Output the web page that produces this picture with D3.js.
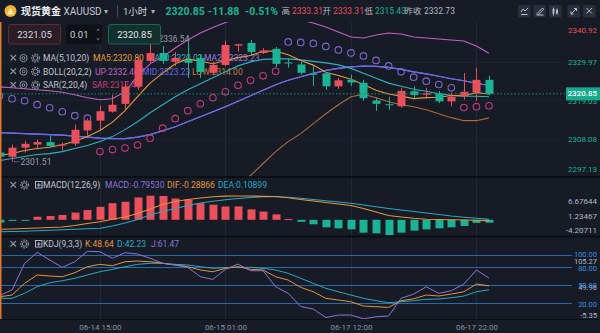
<!DOCTYPE html>
<html>
<head>
<meta charset="utf-8">
<script src="https://cdn.jsdelivr.net/npm/d3@7/dist/d3.min.js"></script>
<style>
  html, body { margin: 0; padding: 0; background: #161b26; overflow: hidden; }
  svg { display: block; font-family: Roboto, "Noto Sans CJK SC", "DejaVu Sans", sans-serif; }
</style>
</head>
<body>
<svg id="chart" width="600" height="333"></svg>
<script>
// ---------- hourly bars, XAUUSD ----------
const times = [
  "06-14 07:00","06-14 08:00","06-14 09:00","06-14 10:00","06-14 11:00","06-14 12:00","06-14 13:00",
  "06-14 14:00","06-14 15:00","06-14 16:00","06-14 17:00","06-14 18:00","06-14 19:00","06-14 20:00",
  "06-14 21:00","06-14 22:00","06-14 23:00","06-15 00:00","06-15 01:00","06-15 02:00","06-15 03:00",
  "06-15 04:00","06-17 06:00","06-17 07:00","06-17 08:00","06-17 09:00","06-17 10:00","06-17 11:00",
  "06-17 12:00","06-17 13:00","06-17 14:00","06-17 15:00","06-17 16:00","06-17 17:00","06-17 18:00",
  "06-17 19:00","06-17 20:00","06-17 21:00","06-17 22:00","06-17 23:00"
];
const open  = [2304.10,2302.90,2305.50,2306.40,2307.10,2306.20,2306.65,2310.40,2313.20,2315.80,
               2318.00,2322.90,2330.25,2332.50,2330.00,2330.50,2331.10,2326.85,2329.10,2334.60,
               2335.37,2332.50,2333.70,2329.80,2329.25,2326.60,2326.70,2323.00,2324.85,2324.00,
               2318.96,2317.90,2317.30,2321.60,2320.60,2321.00,2318.70,2320.20,2321.30,2324.85];
const high  = [2304.70,2306.40,2307.40,2307.80,2309.00,2306.95,2312.10,2313.80,2317.50,2320.60,
               2324.30,2331.40,2336.54,2334.50,2332.80,2335.70,2332.20,2330.00,2336.00,2335.10,
               2336.20,2333.90,2334.20,2331.10,2330.00,2328.80,2327.10,2325.40,2326.30,2324.85,
               2319.70,2320.00,2322.60,2322.90,2322.60,2321.70,2321.20,2326.80,2328.30,2326.00];
const low   = [2302.40,2301.51,2304.10,2305.00,2305.50,2304.70,2306.10,2308.90,2310.60,2315.50,
               2316.30,2322.00,2329.70,2329.40,2328.80,2325.40,2325.40,2326.30,2328.80,2332.90,
               2332.20,2332.20,2328.50,2328.30,2326.30,2323.10,2322.00,2322.30,2323.10,2318.90,
               2316.00,2316.30,2316.90,2319.70,2319.45,2318.20,2317.30,2319.20,2318.90,2320.45];
const close = [2302.97,2305.50,2306.60,2307.10,2305.95,2306.40,2310.60,2313.20,2315.90,2317.75,
               2322.90,2330.50,2332.50,2330.25,2331.10,2329.70,2327.10,2329.10,2334.80,2335.00,
               2332.80,2333.20,2329.40,2329.50,2326.85,2326.30,2323.00,2324.70,2324.10,2319.60,
               2318.00,2317.60,2321.70,2320.50,2321.00,2318.70,2320.00,2321.45,2324.85,2320.85];

// moving averages
const ma5  = [2303.25,2303.82,2304.67,2305.24,2305.62,2306.31,2307.33,2308.65,2310.41,2312.77,
              2316.07,2320.05,2323.91,2326.78,2329.45,2330.81,2330.13,2329.45,2330.36,2331.18,
              2331.80,2333.02,2333.08,2332.02,2330.35,2329.05,2327.01,2326.07,2324.99,2323.54,
              2321.88,2320.80,2320.20,2319.48,2319.76,2319.90,2320.38,2320.33,2321.20,2320.80];
const ma10 = [2301.82,2302.39,2302.96,2303.53,2303.81,2304.38,2305.24,2306.09,2307.23,2308.65,
              2310.64,2312.91,2315.47,2317.75,2320.02,2322.01,2323.72,2325.42,2327.13,2328.83,
              2329.97,2330.68,2330.82,2330.82,2330.54,2330.11,2329.69,2329.12,2328.12,2326.70,
              2325.28,2323.91,2323.00,2322.15,2321.58,2320.87,2320.45,2320.16,2320.16,2320.02];
const ma20 = [2309.78,2309.64,2309.50,2309.36,2309.22,2309.07,2308.79,2308.51,2308.22,2308.08,
              2308.08,2308.51,2309.22,2310.35,2311.49,2312.91,2314.33,2315.75,2317.18,2318.74,
              2320.30,2321.87,2323.43,2324.71,2325.71,2326.70,2327.55,2328.12,2328.55,2328.75,
              2328.69,2328.41,2327.84,2327.13,2326.56,2325.85,2325.14,2324.57,2323.86,2323.23];

// Bollinger bands (middle band is the 20-bar average)
const bollMid = ma20;
const bollUp  = [2322.86,2322.58,2322.29,2322.01,2321.73,2321.30,2320.59,2319.74,2319.17,2319.45,
                 2321.44,2325.99,2329.40,2331.39,2333.95,2336.22,2338.21,2339.78,2341.20,2342.48,
                 2343.05,2342.76,2342.48,2342.19,2341.91,2341.06,2339.92,2338.50,2337.08,2336.79,
                 2337.65,2338.21,2337.93,2337.08,2336.79,2336.51,2336.22,2335.94,2334.52,2332.46];
const bollLow = [2296.70,2296.70,2296.71,2296.71,2296.71,2296.84,2296.99,2297.28,2297.27,2296.71,
                 2294.72,2291.03,2289.04,2289.31,2289.03,2289.60,2290.45,2291.72,2293.16,2295.00,
                 2297.55,2300.98,2304.38,2307.23,2309.51,2312.34,2315.18,2317.74,2320.02,2320.71,
                 2319.73,2318.61,2317.75,2317.18,2316.33,2315.19,2314.06,2313.20,2313.20,2314.00];

// parabolic SAR
const sar = [2320.30,2319.45,2318.88,2317.75,2316.89,2315.75,2314.62,2313.91,2304.38,2304.95,
             2305.38,2306.23,2308.22,2311.06,2313.77,2316.04,2318.03,2319.74,2321.44,2323.29,
             2324.71,2325.99,2327.27,2335.66,2335.51,2335.23,2334.38,2333.38,2332.53,2331.68,
             2330.40,2328.83,2327.13,2325.62,2324.48,2323.52,2322.58,2316.95,2317.20,2317.45];

// MACD(12,26,9)
const macdHist = [-0.75,-0.30,-0.15,0.85,1.05,1.35,2.00,2.70,3.60,4.60,
                  5.00,6.20,6.67644,6.60,5.90,5.60,4.60,4.20,3.70,3.70,
                  2.90,2.30,1.50,0.20,-0.55,-1.25,-2.08,-2.36,-2.64,-3.56,
                  -3.75,-4.20711,-3.56,-3.00,-2.64,-2.36,-2.08,-1.71,-0.85,-0.79530];
const dif = [-2.63,-2.55,-2.41,-2.27,-2.13,-1.99,-1.58,-1.02,-0.53,0.14,
             0.78,1.75,2.99,4.24,5.07,5.62,6.04,6.37,6.55,6.60,
             6.60,6.50,6.45,6.09,5.62,5.20,4.79,4.38,3.96,3.13,
             2.16,1.19,0.78,0.42,0.17,0.08,0.00,-0.06,-0.14,-0.28866];
const dea = [-3.30,-3.24,-3.16,-3.05,-2.91,-2.77,-2.60,-2.47,-2.35,-1.72,
             -0.89,0.08,1.33,2.30,3.13,3.96,4.65,5.15,5.54,5.90,
             6.18,6.37,6.40,6.26,5.96,5.62,5.26,4.93,4.57,4.10,
             3.60,3.13,2.71,2.30,1.88,1.47,1.05,0.72,0.42,0.10899];

// KDJ(9,3,3)
const kLine = [30.8,33.6,52.8,66.4,64.8,63.6,70.2,80.0,83.9,81.6,
               88.2,89.3,88.2,85.6,82.8,80.0,74.6,71.8,77.4,80.0,
               75.7,74.6,63.6,58.2,46.2,39.0,28.2,25.4,22.6,15.6,
               14.4,13.4,24.3,27.5,33.6,32.0,35.2,39.0,51.6,48.64];
const dLine = [28.2,28.2,36.4,47.2,53.8,57.0,61.0,66.4,71.8,75.7,
               80.0,83.9,85.6,85.6,83.9,82.8,80.0,77.4,78.4,79.0,
               79.0,77.4,74.6,69.2,61.0,52.8,44.6,39.0,33.6,28.2,
               24.3,21.0,22.6,24.3,26.6,27.0,29.2,32.0,39.0,42.23];
const jLine = [33.0,41.8,85.6,103.5,91.0,79.0,88.2,105.27,104.6,93.8,
               103.0,100.8,93.8,85.6,82.8,79.0,63.6,59.3,75.7,84.4,
               73.4,73.4,47.2,36.4,14.8,10.7,-3.3,0.8,0.8,-5.35,
               -2.0,-0.8,28.2,35.2,47.2,36.4,40.7,51.6,74.6,61.47];

// axis ticks
const priceTicks = [2340.92, 2329.97, 2319.03, 2308.08, 2297.13];
const macdTicks  = [6.67644, 1.23467, -4.20711];
const kdjTicks   = [105.27, 49.96, -5.35];
const kdjLevels  = [100, 80, 50, 20];
const timeTicks  = ["06-14 15:00", "06-15 01:00", "06-17 12:00", "06-17 22:00"];

// quote header
const prevClose = 2332.73;
const dayStats = [["高", 2333.31], ["开", 2333.31], ["低", 2315.43], ["昨收", 2332.73]];
const change = -11.88, changePct = -0.51;
const quoteBoxes = [2321.05, 0.01, 2320.85];

// ---------- drawing ----------
const C = {
  bg: "#161b26", divider: "#0b0e14", grid: "#222835", text: "#c3c7cf", dim: "#8c929d",
  up: "#ea4f5c", down: "#1bb393",
  ma5: "#e59a3e", ma10: "#2db2bf", ma20: "#9a7be0",
  up_: "#c262c4", mid: "#6668ee", low: "#b26a37",
  sarAbove: "#7e66cc", sarBelow: "#c23c78",
  macd: "#8f73d8", dif: "#e3953c", dea: "#2aa9c2",
  level: "#2868ad", levelText: "#3a8ee0"
};
const last = a => a[a.length - 1];
const N = times.length;
const idx = d3.range(N);

const svg = d3.select("#chart");
svg.append("rect").attr("width", 600).attr("height", 333).attr("fill", C.bg);

const x = d3.scalePoint().domain(times).range([-0.5, 489]);
const yMain = d3.scaleLinear().domain([priceTicks[4], priceTicks[0]]).range([177, 23.5]);
const yMacd = d3.scaleLinear().domain([macdTicks[2], macdTicks[0]]).range([235, 195.7]);
const yKdj  = d3.scaleLinear().domain([kdjTicks[2], kdjTicks[0]]).range([318.8, 251.3]);
const xi = i => x(times[i]);

const defs = svg.append("defs");
const clip = (id, y0, y1) => defs.append("clipPath").attr("id", id)
  .append("rect").attr("x", 0).attr("y", y0).attr("width", 566).attr("height", y1 - y0);
clip("cMain", 22, 176); clip("cMacd", 177.5, 235.5); clip("cKdj", 237, 319);

// grid
const grid = svg.append("g");
grid.selectAll("line.v").data(timeTicks).join("line")
  .attr("x1", d => Math.round(x(d)) + 0.5).attr("x2", d => Math.round(x(d)) + 0.5)
  .attr("y1", 22).attr("y2", 319).attr("stroke", C.grid).attr("stroke-width", 1);
grid.selectAll("line.h").data(priceTicks.slice(1, 4)).join("line")
  .attr("x1", 0).attr("x2", 566)
  .attr("y1", d => Math.round(yMain(d)) + 0.5).attr("y2", d => Math.round(yMain(d)) + 0.5)
  .attr("stroke", "#1c2230").attr("stroke-width", 1);

// panel dividers
[[176, 2], [235.5, 2], [319, 1]].forEach(([y, w]) =>
  svg.append("rect").attr("x", 0).attr("y", y).attr("width", 600).attr("height", w).attr("fill", C.divider));

// legends
function icons(g, y, sub) {
  const s = C.dim;
  g.append("path").attr("d", `M10.5,${y - 3}L16,${y + 2.5}M16,${y - 3}L10.5,${y + 2.5}`)
    .attr("stroke", s).attr("stroke-width", 1.1);
  const gear = cx => {
    g.append("circle").attr("cx", cx).attr("cy", y).attr("r", 2.2).attr("fill", "none").attr("stroke", s).attr("stroke-width", 1);
    g.append("circle").attr("cx", cx).attr("cy", y).attr("r", 3.8).attr("fill", "none").attr("stroke", s)
      .attr("stroke-width", 1.3).attr("stroke-dasharray", "1.6,1.1");
  };
  if (sub) {
    gear(24.5);
    g.append("rect").attr("x", 35.5).attr("y", y - 3.5).attr("width", 6.5).attr("height", 6.5)
      .attr("fill", "none").attr("stroke", "#c3c7cf").attr("stroke-width", 0.9);
    g.append("path").attr("d", `M38.75,${y - 2}V${y + 2}M36.75,${y}H40.75`).attr("stroke", "#c3c7cf").attr("stroke-width", 0.9);
  } else {
    g.append("circle").attr("cx", 23.5).attr("cy", y).attr("r", 3.6).attr("fill", "none").attr("stroke", s).attr("stroke-width", 1);
    g.append("circle").attr("cx", 23.5).attr("cy", y).attr("r", 1.4).attr("fill", "none").attr("stroke", s).attr("stroke-width", 1);
    gear(35.5);
  }
}
// each legend row: item texts with their left edges
function legend(y, items, starts, sub) {
  const g = svg.append("g").attr("font-size", 8.5);
  icons(g, y, sub);
  items.forEach(([t, c], k) => {
    g.append("text").attr("x", starts[k]).attr("y", y).attr("dominant-baseline", "central")
      .attr("fill", c).text(t);
  });
}
const f2 = v => v.toFixed(2), f5 = v => v.toFixed(5);
legend(58, [["MA(5,10,20)", C.text], ["MA5:" + f2(last(ma5)), C.ma5], ["MA10:" + f2(last(ma10)), C.ma10], ["MA20:" + f2(last(ma20)), C.ma20]],
  [43, 93, 147, 204]);
legend(71.5, [["BOLL(20,2,2)", C.text], ["UP:" + f2(last(bollUp)), C.up_], ["MID:" + f2(last(bollMid)), C.mid], ["LOW:" + f2(last(bollLow)), "#bd7a40"]],
  [43, 95, 142, 192]);
legend(85, [["SAR(2,20,4)", C.text], ["SAR:" + f2(last(sar)), "#c8407e"]], [43, 92]);
legend(185, [["MACD(12,26,9)", C.text], ["MACD:" + f5(last(macdHist)), C.macd], ["DIF:" + f5(last(dif)), C.dif], ["DEA:" + f5(last(dea)), C.dea]],
  [43, 105, 167, 218], true);
legend(244, [["KDJ(9,3,3)", C.text], ["K:" + f2(last(kLine)), C.dif], ["D:" + f2(last(dLine)), C.dea], ["J:" + f2(last(jLine)), C.macd]],
  [43, 85, 117, 151], true);

// ---------- main price panel ----------
const gMain = svg.append("g").attr("clip-path", "url(#cMain)");
const lineMain = arr => d3.line().x((d, i) => xi(i)).y(d => yMain(d))(arr);
[[bollLow, C.low], [bollUp, C.up_], [ma20, C.ma20], [bollMid, C.mid], [ma10, C.ma10], [ma5, C.ma5]]
  .forEach(([a, c]) => gMain.append("path").attr("d", lineMain(a)).attr("fill", "none")
    .attr("stroke", c).attr("stroke-width", 1.1));

gMain.selectAll("circle.sar").data(idx).join("circle")
  .attr("cx", i => xi(i)).attr("cy", i => yMain(sar[i])).attr("r", 3.3)
  .attr("fill", "none").attr("stroke-width", 1.1)
  .attr("stroke", i => sar[i] > close[i] ? C.sarAbove : C.sarBelow);

const col = i => close[i] >= open[i] ? C.up : C.down;
const bw = 8;
gMain.selectAll("line.wick").data(idx).join("line")
  .attr("x1", i => Math.round(xi(i)) + 0.5).attr("x2", i => Math.round(xi(i)) + 0.5)
  .attr("y1", i => yMain(high[i])).attr("y2", i => yMain(low[i]))
  .attr("stroke", col).attr("stroke-width", 1);
gMain.selectAll("rect.body").data(idx).join("rect")
  .attr("x", i => Math.round(xi(i)) + 0.5 - bw / 2).attr("width", bw)
  .attr("y", i => yMain(Math.max(open[i], close[i])))
  .attr("height", i => Math.max(1, Math.abs(yMain(open[i]) - yMain(close[i]))))
  .attr("fill", col);

// extreme markers
function extreme(i, v) {
  const cx = Math.round(xi(i)) + 0.5, cy = yMain(v);
  gMain.append("line").attr("x1", cx + 1.5).attr("x2", cx + 7.5).attr("y1", cy).attr("y2", cy)
    .attr("stroke", "#9aa0ab").attr("stroke-dasharray", "1.5,1.2").attr("stroke-width", 0.8);
  gMain.append("text").attr("x", cx + 8).attr("y", cy).attr("dominant-baseline", "central")
    .attr("font-size", 8.5).attr("fill", "#9aa0ab").text(f2(v));
}
const hiI = d3.maxIndex(high), loI = d3.minIndex(low);
extreme(hiI, high[hiI]);
extreme(loI, low[loI]);

// last price line
const yLast = yMain(last(close));
svg.append("line").attr("x1", 0).attr("x2", 566).attr("y1", yLast).attr("y2", yLast)
  .attr("stroke", "#1c8c74").attr("stroke-width", 1).attr("stroke-dasharray", "1.5,2");

// ---------- MACD panel ----------
const gMacd = svg.append("g").attr("clip-path", "url(#cMacd)");
const y0 = yMacd(0);
gMacd.selectAll("rect").data(idx).join("rect")
  .attr("x", i => Math.round(xi(i)) + 0.5 - bw / 2).attr("width", bw)
  .attr("y", i => Math.min(y0, yMacd(macdHist[i])))
  .attr("height", i => Math.max(1, Math.abs(yMacd(macdHist[i]) - y0)))
  .attr("fill", i => macdHist[i] >= 0 ? C.up : C.down);
const lineMacd = arr => d3.line().x((d, i) => xi(i)).y(d => yMacd(d))(arr);
gMacd.append("path").attr("d", lineMacd(dea)).attr("fill", "none").attr("stroke", C.dea).attr("stroke-width", 1.1);
gMacd.append("path").attr("d", lineMacd(dif)).attr("fill", "none").attr("stroke", C.dif).attr("stroke-width", 1.1);

// ---------- KDJ panel ----------
const gKdj = svg.append("g");
gKdj.selectAll("line.lv").data(kdjLevels).join("line")
  .attr("x1", 0).attr("x2", 572)
  .attr("y1", d => Math.round(yKdj(d)) + 0.5).attr("y2", d => Math.round(yKdj(d)) + 0.5)
  .attr("stroke", C.level).attr("stroke-width", 1.2);
const gK = svg.append("g").attr("clip-path", "url(#cKdj)");
const lineKdj = arr => d3.line().x((d, i) => xi(i)).y(d => yKdj(d))(arr);
[[dLine, C.dea], [kLine, C.dif], [jLine, C.macd]].forEach(([a, c]) =>
  gK.append("path").attr("d", lineKdj(a)).attr("fill", "none").attr("stroke", c).attr("stroke-width", 1));

// ---------- axes ----------
function rightAxis(scale, ticks, fmt, offsets, colorFn, size) {
  const g = svg.append("g").attr("transform", "translate(597,0)")
    .call(d3.axisRight(scale).tickValues(ticks).tickSize(0).tickPadding(0).tickFormat(fmt));
  g.select(".domain").remove();
  g.selectAll("text").attr("x", 0).attr("text-anchor", "end").attr("font-size", size || 8)
    .attr("font-family", "Roboto, sans-serif")
    .attr("dy", (d, k) => (offsets[k] + 2.8) + "px")
    .attr("fill", colorFn);
  return g;
}
rightAxis(yMain, priceTicks, f2, [6, 0, 0.5, 0, -8.5], d => d > prevClose ? C.up : C.down);
rightAxis(yMacd, macdTicks, f5, [5, 0.3, -5], () => "#b4b9c2");
rightAxis(yKdj, kdjTicks, f2, [9.2, 2, -3.8], () => "#b4b9c2", 7.5);
rightAxis(yKdj, kdjLevels, f2, [-0.5, 0.5, 0, 0], () => C.levelText, 7.5);

const gx = svg.append("g").attr("transform", "translate(0,319)")
  .call(d3.axisBottom(x).tickValues(timeTicks).tickSize(0).tickPadding(0));
gx.select(".domain").remove();
gx.selectAll("text").attr("y", 8).attr("dy", "0.32em").attr("font-size", 8)
  .attr("font-family", "Roboto, sans-serif").attr("fill", "#8d94a0");

// last price tag
svg.append("rect").attr("x", 566).attr("y", yLast - 6.5).attr("width", 34).attr("height", 13).attr("fill", "#17a98c");
svg.append("text").attr("x", 597).attr("y", yLast).attr("dominant-baseline", "central").attr("text-anchor", "end")
  .attr("font-size", 8).attr("font-weight", 500).attr("fill", "#ffffff").text(f2(last(close)));

// ---------- header ----------
const hd = svg.append("g");
const T = (x, y, s, fill, size, weight) => hd.append("text").attr("x", x).attr("y", y)
  .attr("dominant-baseline", "central").attr("font-size", size).attr("font-weight", weight || 400)
  .attr("fill", fill).text(s);
hd.append("circle").attr("cx", 10.5).attr("cy", 11).attr("r", 6).attr("fill", "#f0b232");
hd.append("path").attr("d", "M7.5,13.5h6M8.5,11.5h4M9.5,9.5h2").attr("stroke", "#fff7dc").attr("stroke-width", 1.3);
T(21, 11, "现货黄金", "#eceef2", 10, 700);
T(63.5, 11, "XAUUSD", "#c5c9d1", 10);
T(104, 11.5, "▾", "#aab0ba", 8);
hd.append("line").attr("x1", 117.5).attr("x2", 117.5).attr("y1", 5).attr("y2", 17).attr("stroke", "#464c58");
T(123, 11, "1小时", "#d0d3da", 9.5);
T(151, 11.5, "▾", "#aab0ba", 8);
T(165.5, 11, f2(last(close)), C.down, 10.5, 700);
T(208, 11, change.toFixed(2), C.down, 10.5, 700);
T(245, 11, changePct.toFixed(2) + "%", C.down, 10.5, 700);
// day statistics: label / value left edges
const statX = [[281.5, 292], [322.5, 333], [364.5, 375], [404.5, 424]];
dayStats.forEach(([lab, v], k) => {
  T(statX[k][0], 11, lab, "#b6bac3", 8.5);
  const fill = lab === "昨收" ? "#b6bac3" : (v > prevClose ? C.up : C.down);
  T(statX[k][1], 11, f2(v), fill, 8.5);
});

// toolbar buttons
const btnX = [518, 533.5, 549, 567.5, 583];
btnX.forEach(bx => hd.append("rect").attr("x", bx).attr("y", 5).attr("width", 12.5).attr("height", 12.5)
  .attr("rx", 1.5).attr("fill", "#2a303b"));
const gl = d => hd.append("path").attr("d", d).attr("fill", "none").attr("stroke", "#b8bdc7").attr("stroke-width", 1);
gl(`M${btnX[0] + 3},12 l2,-3 l2,2 l3,-3 M${btnX[0] + 3},14.5 h6.5`);
gl(`M${btnX[1] + 3.5},13.5 l5.5,-5.5 l1.2,1.2 l-5.5,5.5 z M${btnX[1] + 3},15 h7`);
gl(`M${btnX[2] + 4.5},7.5 v8 M${btnX[2] + 8},8.5 v6`);
hd.append("rect").attr("x", btnX[2] + 3.5).attr("y", 9).attr("width", 2).attr("height", 4.5).attr("fill", "#b8bdc7");
hd.append("rect").attr("x", btnX[2] + 7).attr("y", 10).attr("width", 2).attr("height", 3.5).attr("fill", "#b8bdc7");
gl(`M${btnX[3] + 3.5},14 L${btnX[3] + 9},8.5 M${btnX[3] + 6.5},8.5 h2.5 v2.5 M${btnX[3] + 3.5},11.5 v2.5 h2.5`);
gl(`M${btnX[4] + 3.5},8 l5.5,5.5 M${btnX[4] + 9},8 l-5.5,5.5`);

// quote boxes
const bx = svg.append("g");
bx.append("rect").attr("x", 8.5).attr("y", 24.5).attr("width", 52).attr("height", 19.5).attr("rx", 2)
  .attr("fill", "#2a1d26").attr("stroke", "#5e2a36");
bx.append("text").attr("x", 34.5).attr("y", 34.5).attr("text-anchor", "middle").attr("dominant-baseline", "central")
  .attr("font-size", 9.5).attr("fill", "#d9dce2").text(f2(quoteBoxes[0]));
bx.append("rect").attr("x", 66).attr("y", 24.5).attr("width", 36).attr("height", 19.5).attr("rx", 2).attr("fill", "#0e1117");
bx.append("text").attr("x", 70).attr("y", 34.5).attr("dominant-baseline", "central")
  .attr("font-size", 9.5).attr("fill", "#d0d3d9").text(f2(quoteBoxes[1]));
bx.append("path").attr("d", "M96.5,30.5 l1.5,-2 l1.5,2 z M96.5,38.5 l1.5,2 l1.5,-2 z").attr("fill", "#7c828e");
bx.append("rect").attr("x", 108.5).attr("y", 24.5).attr("width", 52).attr("height", 19.5).attr("rx", 2)
  .attr("fill", "#12302d").attr("stroke", "#1b6656");
bx.append("text").attr("x", 134.5).attr("y", 34.5).attr("text-anchor", "middle").attr("dominant-baseline", "central")
  .attr("font-size", 9.5).attr("fill", "#e3e6ea").text(f2(quoteBoxes[2]));

// left edge accent
svg.append("line").attr("x1", 0.75).attr("x2", 0.75).attr("y1", 22).attr("y2", 319)
  .attr("stroke", "#e0772f").attr("stroke-width", 1.5);
</script>
</body>
</html>
